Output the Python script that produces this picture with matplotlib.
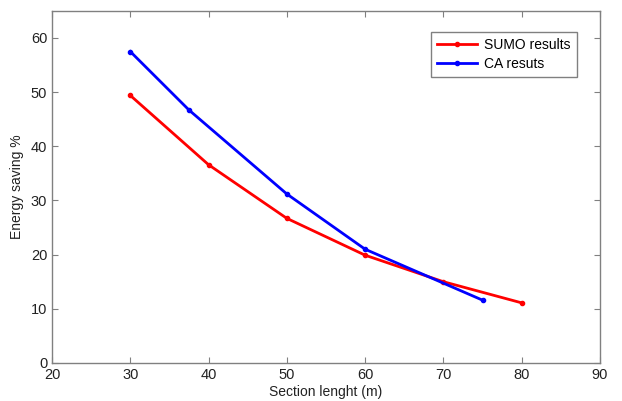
import matplotlib
matplotlib.use('Agg')
import matplotlib.pyplot as plt

plt.rcParams['font.family'] = ['Liberation Sans', 'DejaVu Sans']

sumo_x = [30, 40, 50, 60, 70, 80]
sumo_y = [49.4, 36.6, 26.7, 19.9, 15.0, 11.1]
ca_x = [30, 37.5, 50, 60, 75]
ca_y = [57.5, 46.7, 31.2, 21.0, 11.6]
xticks = [20, 30, 40, 50, 60, 70, 80, 90]
yticks = [0, 10, 20, 30, 40, 50, 60]

fig = plt.figure(figsize=(6.22, 4.01), dpi=100)
ax = fig.add_axes([0.0836, 0.0948, 0.881, 0.878])

ax.plot(sumo_x, sumo_y, color='#ff0000', lw=2, marker='.', ms=6, label='SUMO results')
ax.plot(ca_x, ca_y, color='#0000ff', lw=2, marker='.', ms=6, label='CA resuts')

ax.set_xlim(20, 90)
ax.set_ylim(0, 65)
ax.set_xticks(xticks)
ax.set_yticks(yticks)
ax.tick_params(direction='in', top=True, right=True, length=4, color='#808080',
               labelsize=10.5, labelcolor='#222222')
for s in ax.spines.values():
    s.set_color('#808080')
    s.set_linewidth(1)

ax.set_xlabel('Section lenght (m)', fontsize=10, color='#222222', labelpad=2)
ax.set_ylabel('Energy saving %', fontsize=10, color='#222222', labelpad=5)

leg = ax.legend(loc='upper right', bbox_to_anchor=(0.958, 0.94), borderaxespad=0,
                fontsize=10, fancybox=False, edgecolor='#808080', framealpha=1,
                handlelength=2.9, handletextpad=0.5, borderpad=0.45, labelspacing=0.35)
leg.get_frame().set_linewidth(1)

fig.savefig('out.png', dpi=100)
